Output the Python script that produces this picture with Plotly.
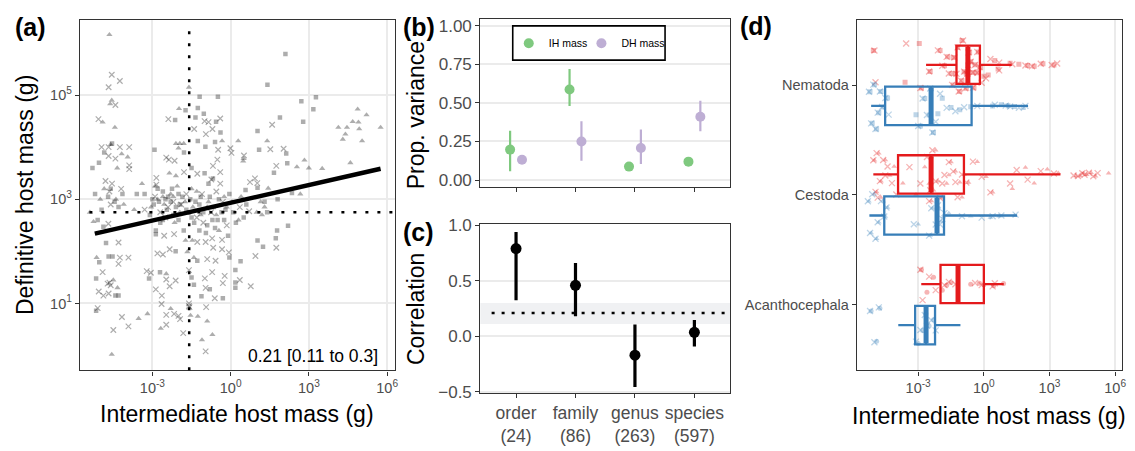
import plotly.graph_objects as go

W, H = 1135, 451

# ---------------- Panel (a): log10 host masses (intermediate, definitive) ----------------
a_squares = [
    (-4.78, 2.16), (-4.88, 2.47), (-5.04, 1.79), (-4.68, 1.9), (-4.53, 1.9), (-5.16, 1.48), (-4.42, 1.15),
    (-4.3, 1.15), (-5.16, 0.86), (-4.55, 4.07), (-5.3, 3.6), (-5.05, 3.7), (-4.85, 3.9), (-5.2, 3.1),
    (-4.6, 3.2), (-3.6, 3.1), (-4.3, 2.85), (-4.7, 3.05), (-4.95, 2.8),
    (-2.92, 3.95), (-2.13, 4.52), (-1.73, 4.71), (-1.19, 4.97), (-0.49, 4.97), (-1.26, 4.75), (-1.03, 4.64),
    (-1.35, 4.57), (-0.56, 4.49), (-0.39, 4.28), (-1.26, 4.12), (-0.97, 4.01), (-1.79, 3.9), (-0.68, 3.4),
    (-0.85, 3.3), (-1.5, 3.6), (-2.87, 2.4), (-2.87, 2.33), (-2.11, 2.0), (-1.28, 1.82), (-0.05, 1.88),
    (0.18, 1.64), (0.18, 1.4), (0.18, 1.3), (-1.41, 1.36), (-0.8, 1.27), (-1.12, 1.14), (-2.71, 1.6),
    (-3.13, 1.48), (-1.5, 1.5), (-0.3, 1.1), (-0.1, 2.3),
    (2.1, 5.79), (1.41, 5.2), (3.27, 4.96), (2.71, 4.88), (3.17, 4.73), (1.89, 4.57), (2.78, 4.49),
    (1.03, 4.31), (1.09, 3.95), (2.13, 3.88), (2.17, 3.69), (1.66, 3.51), (1.03, 3.22), (0.57, 3.18),
    (2.35, 3.12), (2.2, 2.49), (1.78, 2.4), (1.73, 2.25), (1.24, 2.09), (1.03, 2.21), (0.38, 1.81),
    (-2.3, 2.95), (-2.0, 3.1), (-1.2, 2.9), (-0.5, 2.6), (-0.2, 2.8), (0.6, 2.9), (1.3, 2.95), (1.8, 3.0),
    (-2.6, 2.6), (-1.8, 2.4), (-0.9, 2.5), (-3.0, 3.0), (-2.8, 3.2), (-1.0, 3.5), (-0.6, 4.1), (-0.45, 3.0),
    (1.4, 2.75), (-3.3, 3.1), (-1.6, 2.75), (-2.2, 2.7),
    (-2.95, 2.9), (-2.75, 2.95), (-2.5, 3.0), (-2.45, 2.8), (-2.1, 2.85), (-1.85, 3.05), (-1.7, 2.8),
    (-1.35, 2.95), (-1.05, 2.75), (-0.8, 3.05), (-0.65, 2.85), (-2.6, 3.15), (-2.25, 3.2), (-1.55, 3.0),
    (-1.4, 2.55), (-0.95, 2.35), (-0.6, 2.45), (-0.25, 2.6), (0.1, 2.75), (0.2, 2.55), (-3.1, 2.7),
    (-2.0, 2.6), (-1.2, 2.4), (-4.45, 2.95), (-4.15, 3.1), (-5.1, 2.6), (-2.4, 3.05), (-1.95, 2.9),
    (-1.15, 3.05), (-0.7, 2.6), (-0.35, 2.75), (-2.7, 2.55), (-1.5, 2.65), (0.5, 2.65), (-0.05, 3.1),
]
a_triangles = [
    (-4.65, 6.16), (-4.56, 4.9), (-4.62, 4.83), (-4.91, 4.48), (-4.44, 4.38), (-4.6, 4.05), (-4.18, 3.87),
    (-3.95, 3.81), (-4.35, 3.6), (-5.26, 2.57), (-5.14, 1.88), (-4.5, 1.45), (-4.34, 1.3), (-3.53, 0.71),
    (-3.19, 0.8), (-4.56, 0.02), (-5.4, 2.75), (-5.0, 3.0), (-4.1, 2.9), (-3.7, 2.8),
    (-1.98, 4.74), (-1.6, 5.15), (-0.33, 4.12), (-2.1, 4.07), (-1.95, 4.07), (-1.8, 4.07), (-2.0, 3.98),
    (-2.35, 3.5), (-2.1, 3.45), (-1.73, 2.21), (-1.47, 2.21), (-1.66, 1.99), (-1.41, 1.88), (-2.47, 1.57),
    (-1.54, 0.77), (-1.26, 0.75), (-0.9, 0.66), (-2.68, 0.52), (-2.3, 0.9), (-1.1, 0.3), (-0.7, 0.4),
    (-2.2, 3.05), (-1.5, 3.2), (-0.9, 2.85), (0.4, 3.05),
    (4.87, 4.73), (5.21, 4.62), (4.68, 4.49), (4.9, 4.48), (4.13, 4.38), (4.46, 4.38), (4.93, 4.35),
    (4.4, 4.25), (4.3, 4.15), (5.04, 4.12), (5.75, 4.38), (0.29, 4.12), (1.4, 4.12), (0.48, 3.73),
    (0.5, 3.78), (2.83, 3.75), (2.54, 3.62), (3.0, 3.6), (3.51, 3.59), (4.59, 3.7), (1.44, 3.21),
    (2.67, 3.1), (1.0, 2.75), (1.2, 2.7), (1.3, 2.85), (1.15, 2.95), (-3.4, 3.3), (-2.6, 3.05),
    (-2.8, 3.0), (-2.55, 2.9), (-2.3, 3.1), (-1.95, 2.75), (-1.75, 2.95), (-1.45, 2.85), (-1.15, 2.7),
    (-0.85, 2.95), (-0.55, 2.7), (-0.15, 2.85), (0.05, 2.95), (-2.15, 2.55), (-0.45, 2.4), (0.3, 2.6),
    (-4.85, 3.2), (-4.4, 3.0), (-2.9, 3.25), (-1.3, 3.15), (-0.25, 3.05), (-2.05, 3.25), (-3.05, 2.85),
]
a_crosses = [
    (-4.56, 5.39), (-4.25, 5.27), (-4.68, 5.15), (-4.42, 4.81), (-5.07, 4.54), (-4.95, 4.0), (-4.68, 4.0),
    (-4.25, 4.0), (-3.89, 4.0), (-4.68, 3.83), (-4.42, 3.78), (-3.89, 3.65), (-3.89, 3.58), (-4.55, 3.3),
    (-4.65, 3.15), (-4.8, 3.35),
    (-4.69, 2.53), (-4.3, 2.17), (-4.25, 1.88), (-3.92, 1.88), (-4.3, 1.76), (-4.91, 1.6), (-4.65, 1.4),
    (-4.72, 1.38), (-4.6, 1.35), (-5.06, 1.23), (-4.88, 1.15), (-4.68, 1.19), (-5.1, 0.91), (-4.17, 0.74),
    (-3.92, 0.56), (-4.5, 0.49),
    (-2.39, 4.54), (-1.0, 4.5), (-0.85, 4.48), (-0.4, 4.55), (-0.7, 4.35), (-0.95, 4.25), (-1.4, 4.35),
    (-2.47, 3.8), (-2.37, 3.76), (-2.15, 3.74), (-0.48, 3.95), (-0.01, 3.98), (0.03, 3.89), (-0.51, 3.76),
    (-0.68, 3.64), (-0.4, 3.52), (-1.79, 3.52), (-1.28, 3.49), (-2.85, 3.41), (-2.85, 3.28), (-0.74, 3.38),
    (-0.4, 3.3),
    (-2.55, 2.3), (-2.17, 2.33), (-2.81, 1.96), (-2.6, 1.94), (-2.34, 2.04), (-3.22, 1.62), (-3.06, 1.59),
    (-2.47, 1.46), (-2.11, 1.44), (-2.34, 1.33), (-2.87, 1.27), (-2.64, 1.15), (-2.65, 0.99), (-1.28, 2.18),
    (-0.96, 2.18), (-0.71, 2.25), (-0.33, 2.22), (-0.67, 2.07), (-0.33, 2.04), (-0.07, 1.98), (-0.9, 1.85),
    (-0.58, 1.82), (-1.6, 1.64), (-0.99, 1.48), (-0.71, 1.6), (-0.23, 1.53), (-0.96, 1.3), (-0.61, 1.1),
    (-0.3, 1.39), (-1.58, 0.93), (-0.94, 0.93), (-1.82, 0.43), (-2.0, 0.76), (-2.47, 0.78), (-2.17, 0.8),
    (-1.94, 0.7), (-2.47, 0.59), (-0.96, 0.08), (-1.6, 0.95), (-1.6, 1.0),
    (1.59, 4.43), (1.52, 3.96), (2.03, 3.97), (0.51, 3.84), (1.75, 3.64), (0.74, 3.33), (0.93, 3.4),
    (1.02, 3.31), (1.75, 2.07), (0.95, 1.91), (0.35, 1.45), (0.77, 1.33), (0.71, 2.77), (-2.9, 3.05),
    (-2.4, 2.85), (-1.9, 2.9), (-1.3, 2.65), (-0.75, 2.75), (-0.3, 2.95), (-2.7, 2.75), (-1.1, 3.1),
    (-3.3, 2.8), (-4.6, 2.9), (-4.2, 3.2), (-2.5, 2.65), (-1.7, 3.1), (-0.55, 3.15), (-1.05, 2.55),
    (-2.2, 2.95), (-0.15, 2.5), (0.35, 2.85),
]
a_slope = 0.1136
a_intercept = 2.932
a_fit_span = [-5.21, 5.75]
ih_mean_log = -1.59
dh_mean_log = 2.75
corr_all, corr_all_lo, corr_all_hi = 0.21, 0.11, 0.3

# ---------------- Panel (b): proportion of variance by taxonomic level ----------------
levels = ["order", "family", "genus", "species"]
level_n = [24, 86, 263, 597]
ih_prop = [0.197, 0.587, 0.087, 0.119]
ih_lo = [0.056, 0.479, 0.065, 0.100]
ih_hi = [0.319, 0.719, 0.110, 0.140]
dh_prop = [0.131, 0.250, 0.208, 0.410]
dh_lo = [0.120, 0.125, 0.104, 0.316]
dh_hi = [0.142, 0.381, 0.327, 0.514]

# ---------------- Panel (c): correlation by taxonomic level ----------------
corr = [0.790, 0.459, -0.172, 0.035]
corr_lo = [0.325, 0.180, -0.459, -0.093]
corr_hi = [0.939, 0.660, 0.105, 0.145]

# ---------------- Panel (d): intermediate host mass by parasite group (log10) ----------------
d_groups = ["Nematoda", "Cestoda", "Acanthocephala"]
red_q1 = [-1.25, -3.92, -1.98]
red_med = [-0.73, -2.41, -1.18]
red_q3 = [-0.18, -0.91, 0.0]
red_lo = [-2.64, -5.05, -2.86]
red_hi = [1.27, 3.5, 0.91]
blue_q1 = [-4.51, -4.55, -3.14]
blue_med = [-2.41, -2.14, -2.64]
blue_q3 = [-0.56, -1.82, -2.23]
blue_lo = [-5.15, -5.23, -3.91]
blue_hi = [2.02, 1.52, -1.07]

red_nem = [-5.0, -5.05, -4.95, -3.6, -3.55, -2.95, -2.9, -2.85, -2.5, -2.45,
           -2.1, -2.0, -1.9, -1.8, -1.7, -1.65, -1.6, -1.5, -1.45, -1.4, -1.35, -1.3, -1.25, -1.2,
           -1.15, -1.1, -1.05, -1.0, -0.95, -0.9, -0.85, -0.8, -0.75, -0.73, -0.7, -0.65, -0.6,
           -0.55, -0.5, -0.45, -0.4, -0.35, -0.3, -0.25, -0.2, -0.15, -0.1, 0.0, 0.1, 0.2, 0.3,
           0.5, 0.7, -1.4, -1.2, -1.0, -0.9, -0.8, -0.7, -0.6, -0.5, -0.4, -0.3,
           0.65, 0.7, 1.2, 1.3, 1.6, 1.9, 2.0, 2.2, 2.3, 2.6, 2.7, 3.1, 3.2, 3.35]
blue_nem = [-5.25, -5.2, -5.15, -5.1, -5.05, -5.0, -4.95, -4.9, -4.85, -4.8, -4.75, -4.7, -4.65,
            -4.6, -4.5, -4.4, -4.35, -3.1, -3.0, -2.9, -2.8, -2.7, -2.6, -2.5, -2.45, -2.4, -2.35,
            -2.3, -2.2, -2.1, -2.0, -1.9, -1.7, -1.5, -1.3, -1.1, -0.9, -0.6, -0.3, 0.4, 0.5, 0.8,
            1.0, 1.1, 1.2, 1.4, 1.6, 1.8, 1.9]
red_ces = [-5.05, -5.0, -4.95, -4.9, -4.85, -4.8, -4.75, -4.7, -4.6, -4.5, -4.4, -4.3, -4.2, -4.1,
           -4.0, -3.7, -3.4, -3.1, -2.9, -2.7, -2.6, -2.5, -2.45, -2.4, -2.35, -2.3, -2.2, -2.1,
           -2.0, -1.9, -1.8, -1.7, -1.6, -1.5, -1.4, -1.3, -1.2, -1.1, -1.0, -0.9, -0.8, -0.7,
           -0.5, -0.3, -0.1, 0.1, 0.3, 0.4, 1.2, 1.3, 1.5, 1.9, 2.0, 2.3, 2.6, 2.9, 3.2, 3.4, 4.1,
           4.2, 4.3, 4.4, 4.5, 4.55, 4.6, 4.7, 4.8, 4.9, 5.0, 5.1, 5.2, 5.7,
           -4.9, -4.7, -4.5, -2.2, -1.9, -1.6, -1.3, -1.0, -2.5, -2.4]
blue_ces = [-5.3, -5.25, -5.2, -5.15, -5.1, -5.0, -4.95, -4.9, -4.85, -4.8, -4.7, -4.6, -4.55,
            -4.5, -4.45, -4.4, -3.2, -3.0, -2.5, -2.45, -2.4, -2.35, -2.2, -2.15, -2.1, -2.05,
            -2.0, -1.95, -1.9, -1.85, -1.8, -1.6, -1.0, -0.6, -0.1, 0.3, 0.4, 0.7, 0.8, 1.4, 1.45]
red_aca = [-2.9, -2.85, -2.8, -2.6, -2.5, -2.3, -2.2, -1.9, -1.8, -1.7, -1.6, -1.5, -1.3, -0.6,
           -0.4, -0.2, -0.1, 0.0, 0.4, 0.45, 0.5, 0.9]
blue_aca = [-5.2, -5.15, -5.0, -4.9, -4.8, -4.75, -3.1, -3.0, -2.9, -2.8, -2.7, -2.65, -2.6, -2.5,
            -2.4, -2.3, -2.2]

# ---------------- styling ----------------
FONT = "Liberation Sans, Arial, Helvetica, sans-serif"
RED, BLUE = "#E41A1C", "#377EB8"
GREEN, PURPLE = "#7FC97F", "#BEAED4"
PT_GREY = "rgba(0,0,0,0.32)"


def px(p):
    return p / W


def py(p):
    return 1 - p / H


fig = go.Figure()

# ---- Panel (a) ----
for pts, sym, sz in [(a_squares, "square", 4.5), (a_triangles, "triangle-up", 5.5), (a_crosses, "x-thin", 5.5)]:
    fig.add_trace(go.Scatter(
        x=[10 ** p[0] for p in pts], y=[10 ** p[1] for p in pts], mode="markers",
        marker=dict(symbol=sym, size=sz, color=PT_GREY,
                    line=dict(width=1.2 if sym == "x-thin" else 0, color=PT_GREY)),
        xaxis="x", yaxis="y", showlegend=False, hoverinfo="skip"))
fig.add_trace(go.Scatter(
    x=[10 ** v for v in a_fit_span], y=[10 ** (a_intercept + a_slope * v) for v in a_fit_span],
    mode="lines", line=dict(color="black", width=4.5), xaxis="x", yaxis="y", showlegend=False))

# ---- Panel (b) ----
xs = [i + 1 for i in range(len(levels))]
fig.add_trace(go.Scatter(
    x=[v - 0.1 for v in xs], y=ih_prop, mode="markers", name="IH mass", legend="legend",
    marker=dict(size=10, color=GREEN),
    error_y=dict(type="data", symmetric=False, array=[h - m for h, m in zip(ih_hi, ih_prop)],
                 arrayminus=[m - l for m, l in zip(ih_prop, ih_lo)], thickness=2.2, width=0, color=GREEN),
    xaxis="x2", yaxis="y2"))
fig.add_trace(go.Scatter(
    x=[v + 0.1 for v in xs], y=dh_prop, mode="markers", name="DH mass", legend="legend2",
    marker=dict(size=10, color=PURPLE),
    error_y=dict(type="data", symmetric=False, array=[h - m for h, m in zip(dh_hi, dh_prop)],
                 arrayminus=[m - l for m, l in zip(dh_prop, dh_lo)], thickness=2.2, width=0, color=PURPLE),
    xaxis="x2", yaxis="y2"))

# ---- Panel (c) ----
fig.add_trace(go.Scatter(
    x=xs, y=corr, mode="markers", marker=dict(size=11, color="black"),
    error_y=dict(type="data", symmetric=False, array=[h - m for h, m in zip(corr_hi, corr)],
                 arrayminus=[m - l for m, l in zip(corr, corr_lo)], thickness=3.2, width=0, color="black"),
    xaxis="x3", yaxis="y3", showlegend=False))

# ---- Panel (d) ----
pos = [3, 2, 1]
dodge, bw = 0.1875, 0.35
jitter_band = 0.5
other_sym = ["square", "triangle-up", "circle"]
red_pts = [red_nem, red_ces, red_aca]
blue_pts = [blue_nem, blue_ces, blue_aca]
for gi in range(3):
    for vals, rgba, off in [(red_pts[gi], "rgba(228,26,28,0.33)", dodge),
                            (blue_pts[gi], "rgba(55,126,184,0.33)", -dodge)]:
        for sub, sym in [(vals[0::2], "x-thin"), (vals[1::2], other_sym[gi])]:
            fig.add_trace(go.Box(
                x=[10 ** v for v in sub], y0=pos[gi] + off, orientation="h", width=jitter_band,
                boxpoints="all", jitter=1.0, pointpos=0,
                line=dict(width=0, color="rgba(0,0,0,0)"), fillcolor="rgba(0,0,0,0)",
                marker=dict(symbol=sym, size=5 if sym != "x-thin" else 6, color=rgba,
                            line=dict(width=1.3 if sym == "x-thin" else 0, color=rgba)),
                xaxis="x4", yaxis="y4", showlegend=False, hoverinfo="skip"))
for gi in range(3):
    for q1, md, q3, lo, hi, col, off in [
        (red_q1, red_med, red_q3, red_lo, red_hi, RED, dodge),
        (blue_q1, blue_med, blue_q3, blue_lo, blue_hi, BLUE, -dodge)]:
        p = pos[gi] + off
        fig.add_trace(go.Box(
            q1=[10 ** q1[gi]], median=[10 ** md[gi]], q3=[10 ** q3[gi]],
            lowerfence=[10 ** lo[gi]], upperfence=[10 ** hi[gi]], y=[p],
            orientation="h", width=bw, boxpoints=False, whiskerwidth=0,
            line=dict(color=col, width=2.3), fillcolor="rgba(255,255,255,0)",
            xaxis="x4", yaxis="y4", showlegend=False, hoverinfo="skip"))
        fig.add_trace(go.Scatter(
            x=[10 ** md[gi]] * 2, y=[p - bw / 2 + 0.01, p + bw / 2 - 0.01], mode="lines",
            line=dict(color=col, width=5), xaxis="x4", yaxis="y4", showlegend=False, hoverinfo="skip"))

# ---------------- axes ----------------
base = dict(showline=True, mirror=True, linecolor="#333333", linewidth=1.3, ticks="outside",
            ticklen=4, tickwidth=1.3, tickcolor="#333333", gridcolor="#EBEBEB", gridwidth=1.6,
            zeroline=False, tickfont=dict(family=FONT, color="#4D4D4D", size=14.5))
log_ticks = [1e-3, 1, 1e3, 1e6]
log_text = ["10<sup>-3</sup>", "10<sup>0</sup>", "10<sup>3</sup>", "10<sup>6</sup>"]

fig.update_layout(
    xaxis=dict(base, domain=[px(80.3), px(396.7)], type="log", range=[-5.78, 6.3],
               tickvals=log_ticks, ticktext=log_text, anchor="y"),
    yaxis=dict(base, domain=[py(375.7), py(12)], type="log", range=[-0.285, 6.45],
               tickvals=[10, 1e3, 1e5], ticktext=["10<sup>1</sup>", "10<sup>3</sup>", "10<sup>5</sup>"], anchor="x"),
    xaxis2=dict(base, domain=[px(482.5), px(733.3)], range=[0.4, 4.6], tickvals=xs,
                showticklabels=False, showgrid=False, anchor="y2"),
    yaxis2=dict(base, domain=[py(185.7), py(11)], range=[-0.046, 1.046],
                tickvals=[0, 0.25, 0.5, 0.75, 1.0], tickformat=".2f", anchor="x2",
                tickfont=dict(family=FONT, color="#4D4D4D", size=17)),
    xaxis3=dict(base, domain=[px(482.5), px(733.3)], range=[0.4, 4.6], tickvals=xs,
                ticktext=[f"{l}<br>({n})" for l, n in zip(levels, level_n)], showgrid=False, anchor="y3",
                tickfont=dict(family=FONT, color="#4D4D4D", size=17.5)),
    yaxis3=dict(base, domain=[py(399.3), py(224.3)], range=[-0.514, 1.009],
                tickvals=[-0.5, 0, 0.5, 1.0], tickformat=".1f", anchor="x3",
                tickfont=dict(family=FONT, color="#4D4D4D", size=17)),
    xaxis4=dict(base, domain=[px(860.7), px(1126.7)], type="log", range=[-5.8, 6.3],
                tickvals=log_ticks, ticktext=log_text, anchor="y4"),
    yaxis4=dict(base, domain=[py(375.7), py(12)], range=[0.4, 3.6], tickvals=pos,
                ticktext=d_groups, showgrid=False, anchor="x4"),
)

# ---------------- shapes ----------------
dot_a = "3px,9px"
fig.update_layout(shapes=[
    dict(type="line", xref="x", yref="y domain", x0=10 ** ih_mean_log, x1=10 ** ih_mean_log, y0=0, y1=0.98,
         line=dict(color="black", width=2.5, dash=dot_a)),
    dict(type="line", xref="x domain", yref="y", x0=0.03, x1=1, y0=10 ** dh_mean_log, y1=10 ** dh_mean_log,
         line=dict(color="black", width=2.5, dash=dot_a)),
    dict(type="rect", xref="x3 domain", yref="y3", x0=0, x1=1, y0=corr_all_lo, y1=corr_all_hi,
         fillcolor="#F0F1F3", line=dict(width=0), layer="below"),
    dict(type="line", xref="x3 domain", yref="y3", x0=0.045, x1=1, y0=corr_all, y1=corr_all,
         line=dict(color="black", width=2.5, dash="3px,7px")),
    # legend frame of panel (b)
    dict(type="rect", xref="paper", yref="paper", x0=px(515), x1=px(668), y0=py(54), y1=py(18.5),
         line=dict(color="black", width=1.6), fillcolor="rgba(0,0,0,0)", layer="above"),
])

# ---------------- annotations ----------------
def ann(text, x, y, size, xanchor="center", yanchor="middle", angle=0, bold=False, color="black"):
    return dict(text=f"<b>{text}</b>" if bold else text, x=x, y=y, xref="paper", yref="paper",
                xanchor=xanchor, yanchor=yanchor, showarrow=False, textangle=angle,
                font=dict(family=FONT, size=size, color=color))

TS = 23
fig.update_layout(annotations=[
    ann("(a)", px(13), py(20), 25, xanchor="left", bold=True),
    ann("(b)", px(403), py(20), 25, xanchor="left", bold=True),
    ann("(c)", px(403), py(232), 25, xanchor="left", bold=True),
    ann("(d)", px(741), py(19), 25, xanchor="left", bold=True),
    ann("Definitive host mass (g)", px(25), py(194), TS, angle=-90),
    ann("Intermediate host mass (g)", px(238.5), py(421), TS),
    ann("Prop. variance", px(418), py(111), TS, angle=-90),
    ann("Correlation", px(418), py(312), TS, angle=-90),
    ann("Intermediate host mass (g)", px(993.7), py(423), TS),
    ann(f"{corr_all} [{corr_all_lo} to {corr_all_hi}]", px(382), py(361), 17.5, xanchor="right"),
])

leg_common = dict(orientation="h", xanchor="left", yanchor="middle", borderwidth=0,
                  bgcolor="rgba(0,0,0,0)", font=dict(family=FONT, size=10.5, color="black"),
                  itemwidth=30)
fig.update_layout(
    width=W, height=H, margin=dict(l=0, r=0, t=0, b=0),
    paper_bgcolor="white", plot_bgcolor="white", boxmode="overlay",
    font=dict(family=FONT),
    legend=dict(leg_common, x=px(511), y=py(36.5)),
    legend2=dict(leg_common, x=px(584), y=py(36.5)),
)

fig.write_html("out.html")
